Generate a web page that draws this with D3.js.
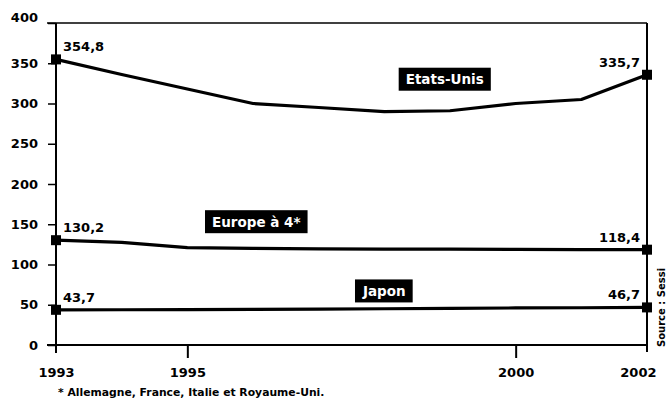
<!DOCTYPE html>
<html>
<head>
<meta charset="utf-8">
<script src="https://cdn.jsdelivr.net/npm/d3@7"></script>
<style>
  body { margin: 0; background: #fff; }
  svg text { font-family: "DejaVu Sans", sans-serif; font-weight: bold; }
</style>
</head>
<body>
<div id="chart"></div>
<script>
// data
var years = [1993, 1994, 1995, 1996, 1997, 1998, 1999, 2000, 2001, 2002];
var etatsUnis = [354.8, 336, 318, 300, 295, 290, 291, 300, 305, 335.7];
var europe4 = [130.2, 127.5, 121, 120, 119.5, 119, 119, 118.8, 118.6, 118.4];
var japon = [43.7, 43.8, 44, 44.2, 44.5, 45, 45.5, 46, 46.3, 46.7];
var seriesNames = ["Etats-Unis", "Europe à 4*", "Japon"];
var yTicks = [0, 50, 100, 150, 200, 250, 300, 350, 400];
var xTicks = [1993, 1995, 2000, 2002];

var width = 669, height = 403;
var margin = {top: 23, right: 22, bottom: 58, left: 56};

var svg = d3.select("#chart").append("svg")
  .attr("width", width)
  .attr("height", height);

var x = d3.scaleLinear()
  .domain([1993, 2002])
  .range([margin.left, width - margin.right]);

var y = d3.scaleLinear()
  .domain([0, 400])
  .range([height - margin.bottom, margin.top]);

// frame: top and right
svg.append("line")
  .attr("x1", x(1993) - 9).attr("x2", x(2002))
  .attr("y1", y(400)).attr("y2", y(400))
  .attr("stroke", "#000").attr("stroke-width", 1.5);
svg.append("line")
  .attr("x1", x(2002)).attr("x2", x(2002))
  .attr("y1", y(400)).attr("y2", y(0) + 7)
  .attr("stroke", "#000").attr("stroke-width", 2);

// baseline
svg.append("line")
  .attr("x1", x(1993) - 9).attr("x2", x(2002))
  .attr("y1", y(0)).attr("y2", y(0))
  .attr("stroke", "#000").attr("stroke-width", 2);

// y axis
var yAxis = d3.axisLeft(y)
  .tickValues(yTicks)
  .tickSize(8)
  .tickPadding(10)
  .tickFormat(d3.format("d"));

var gy = svg.append("g")
  .attr("transform", "translate(" + x(1993) + ",0)")
  .call(yAxis);
gy.select(".domain").remove();
gy.append("line")
  .attr("x1", 0).attr("x2", 0)
  .attr("y1", y(400)).attr("y2", y(0) + 8)
  .attr("stroke", "#000").attr("stroke-width", 2);
gy.selectAll(".tick line").attr("stroke-width", 1.5);
gy.selectAll(".tick text")
  .attr("font-size", "13px")
  .attr("fill", "#000")
  .style("font-family", "DejaVu Sans, sans-serif")
  .style("font-weight", "bold");
gy.select(".tick:last-of-type text").attr("dy", "-0.1em");

// x axis
var xAxis = d3.axisBottom(x)
  .tickValues(xTicks)
  .tickSize(0)
  .tickPadding(23)
  .tickFormat(d3.format("d"));

var gx = svg.append("g")
  .attr("transform", "translate(0," + y(0) + ")")
  .call(xAxis);
gx.select(".domain").remove();
gx.selectAll(".tick text")
  .attr("font-size", "13px")
  .attr("fill", "#000")
  .style("font-family", "DejaVu Sans, sans-serif")
  .style("font-weight", "bold");
gx.selectAll(".tick")
  .filter(function(d) { return d == 1995 || d == 2000; })
  .append("line")
  .attr("y1", 0).attr("y2", 13)
  .attr("stroke", "#000").attr("stroke-width", 2);
gx.selectAll(".tick")
  .filter(function(d) { return d == 2002; })
  .select("text").attr("dx", "-0.7em");

// lines
var line = d3.line()
  .x(function(d, i) { return x(years[i]); })
  .y(function(d) { return y(d); });

var allSeries = [etatsUnis, europe4, japon];

svg.selectAll("path.serie")
  .data(allSeries)
  .enter().append("path")
  .attr("class", "serie")
  .attr("d", line)
  .attr("fill", "none")
  .attr("stroke", "#000")
  .attr("stroke-width", 3.2)
  .attr("stroke-linejoin", "round");

// end markers + value labels
var fmt = function(v) { return d3.format(".1f")(v).replace(".", ","); };

allSeries.forEach(function(s) {
  var ends = [0, s.length - 1];
  ends.forEach(function(i) {
    svg.append("rect")
      .attr("x", x(years[i]) - 5)
      .attr("y", y(s[i]) - 5)
      .attr("width", 10)
      .attr("height", 10)
      .attr("fill", "#000");
    svg.append("text")
      .attr("x", i == 0 ? x(years[i]) + 7 : x(years[i]) - 7)
      .attr("y", y(s[i]) - 8)
      .attr("text-anchor", i == 0 ? "start" : "end")
      .attr("font-size", "13px")
      .attr("fill", "#000")
      .text(fmt(s[i]));
  });
});

// series labels in black boxes
var labelPos = [
  {year: 1998.92, value: 330},
  {year: 1996.05, value: 153},
  {year: 1998.0, value: 67}
];

seriesNames.forEach(function(name, i) {
  var g = svg.append("g");
  var t = g.append("text")
    .attr("x", x(labelPos[i].year))
    .attr("y", y(labelPos[i].value))
    .attr("text-anchor", "middle")
    .attr("dy", "0.36em")
    .attr("font-size", "13.5px")
    .attr("fill", "#fff")
    .text(name);
  var bb = t.node().getBBox();
  g.insert("rect", "text")
    .attr("x", bb.x - 7)
    .attr("y", bb.y - 3.5)
    .attr("width", bb.width + 14)
    .attr("height", bb.height + 7)
    .attr("fill", "#000");
});

// footnote
svg.append("text")
  .attr("x", 58)
  .attr("y", 396)
  .attr("font-size", "10.8px")
  .attr("fill", "#000")
  .text("* Allemagne, France, Italie et Royaume-Uni.");

// source, vertical
svg.append("text")
  .attr("transform", "translate(665,347) rotate(-90)")
  .attr("font-size", "10px")
  .attr("fill", "#000")
  .text("Source : Sessi");
</script>
</body>
</html>
